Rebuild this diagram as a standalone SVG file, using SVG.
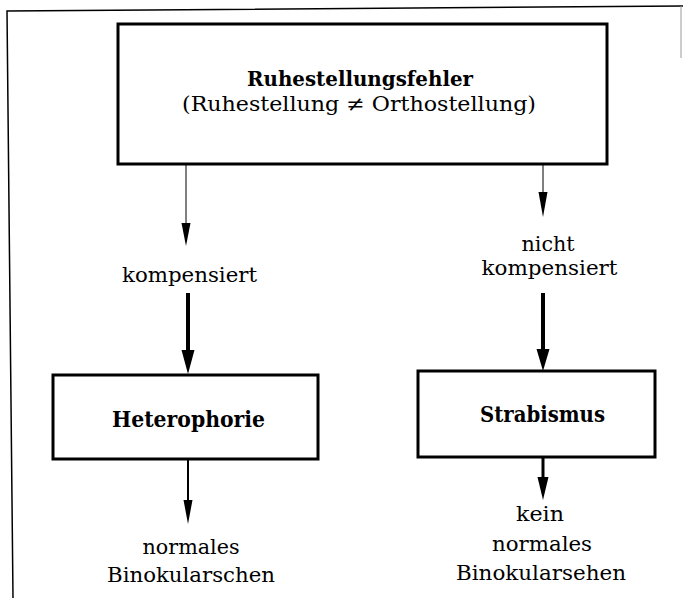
<svg xmlns="http://www.w3.org/2000/svg" width="683" height="600" viewBox="0 0 683 600">
<defs>
<style>
.box{fill:#fff;stroke:#000;stroke-width:3}
.t{font-family:"DejaVu Serif","Liberation Serif",serif;font-size:21px;fill:#000;text-anchor:middle}
.b{font-weight:bold;font-size:22px}
.frame{fill:none;stroke:#000;stroke-width:1.5}
</style>
</defs>
<rect width="683" height="600" fill="#fff"/>
<g id="frame">
<polyline class="frame" points="13,598 7,11 683,6"/>
<line x1="681" y1="6" x2="681" y2="58" stroke="#999" stroke-width="1"/>
</g>
<g id="connectors" fill="#000" stroke="#000">
<line x1="186" y1="164" x2="186" y2="228" stroke-width="1"/>
<path d="M181.5,223 L190.5,223 L186,246 Z" stroke="none"/>
<line x1="543" y1="164" x2="543" y2="196" stroke-width="1"/>
<path d="M538.5,192 L547.5,192 L543,217 Z" stroke="none"/>
<line x1="188" y1="293" x2="188" y2="352" stroke-width="4"/>
<path d="M181.5,350 L194.5,350 L188,374 Z" stroke="none"/>
<line x1="543" y1="293" x2="543" y2="352" stroke-width="4"/>
<path d="M536.5,349 L549.5,349 L543,371 Z" stroke="none"/>
<line x1="188" y1="459" x2="188" y2="504" stroke-width="2"/>
<path d="M183.5,500 L192.5,500 L188,524 Z" stroke="none"/>
<line x1="543" y1="457" x2="543" y2="480" stroke-width="3"/>
<path d="M537.5,477 L548.5,477 L543,500 Z" stroke="none"/>
</g>
<g id="ruhestellungsfehler">
<rect class="box" x="118" y="24" width="489" height="140"/>
<text class="t b" x="360" y="86" style="font-size:21px" textLength="226" lengthAdjust="spacingAndGlyphs">Ruhestellungsfehler</text>
<text class="t" x="359" y="111" textLength="354" lengthAdjust="spacingAndGlyphs">(Ruhestellung ≠ Orthostellung)</text>
</g>
<g id="kompensiert">
<text class="t" x="189.5" y="282" textLength="135" lengthAdjust="spacingAndGlyphs">kompensiert</text>
</g>
<g id="nicht-kompensiert">
<text class="t" x="548" y="251" textLength="53" lengthAdjust="spacingAndGlyphs">nicht</text>
<text class="t" x="549.5" y="275" textLength="136" lengthAdjust="spacingAndGlyphs">kompensiert</text>
</g>
<g id="heterophorie">
<rect class="box" x="53" y="375" width="265" height="84"/>
<text class="t b" x="188.5" y="427" textLength="153" lengthAdjust="spacingAndGlyphs">Heterophorie</text>
</g>
<g id="strabismus">
<rect class="box" x="418" y="371" width="237" height="86"/>
<text class="t b" x="542.5" y="422" textLength="125" lengthAdjust="spacingAndGlyphs">Strabismus</text>
</g>
<g id="normal">
<text class="t" x="191" y="554" textLength="97" lengthAdjust="spacingAndGlyphs">normales</text>
<text class="t" x="191" y="582" textLength="168" lengthAdjust="spacingAndGlyphs">Binokularschen</text>
</g>
<g id="kein-normal">
<text class="t" x="540" y="521" textLength="48" lengthAdjust="spacingAndGlyphs">kein</text>
<text class="t" x="542" y="551" textLength="100" lengthAdjust="spacingAndGlyphs">normales</text>
<text class="t" x="541" y="580" textLength="170" lengthAdjust="spacingAndGlyphs">Binokularsehen</text>
</g>
</svg>
